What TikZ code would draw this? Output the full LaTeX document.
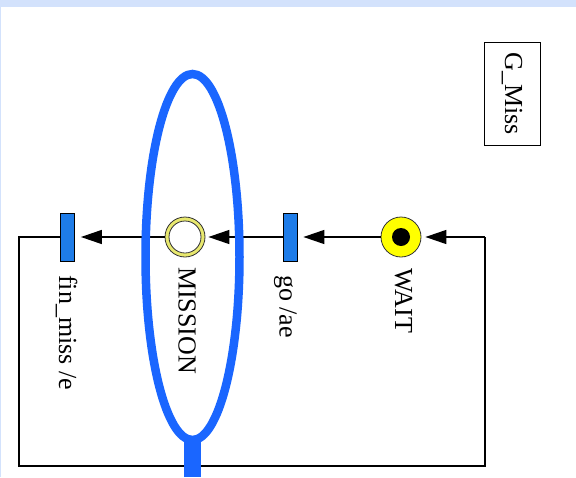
\documentclass[tikz,border=0pt]{standalone}
\usepackage{fontspec}
\setmainfont{Liberation Serif}
\usetikzlibrary{arrows.meta,shapes.geometric}
\definecolor{bandblue}{RGB}{211,226,252}
\definecolor{hlblue}{RGB}{26,102,255}
\definecolor{transblue}{RGB}{30,124,232}
\definecolor{ringyellow}{RGB}{232,232,110}
\definecolor{tokyellow}{RGB}{255,255,0}
\tikzset{
  arc/.style={line width=1.4pt, draw=black},
  arcarrow/.style={arc, -{Triangle[length=21pt,width=14pt]}},
  trans/.style={rectangle, draw=black, line width=0.8pt, fill=transblue, minimum width=14pt, minimum height=48pt, inner sep=0pt},
  place/.style={circle, draw=black!80, line width=0.8pt, minimum size=40pt, inner sep=0pt},
  lab/.style={rotate=-90, anchor=base west, inner sep=0pt, font=\fontsize{26}{30}\selectfont},
}
\begin{document}
\begin{tikzpicture}[x=1pt,y=-1pt]
\useasboundingbox (0,0) rectangle (576,477);
\fill[bandblue] (0,0) rectangle (576,477);
\fill[white] (1,7) rectangle (576,477);

% nodes
\node[place, fill=tokyellow] (wait) at (401,237) {};
\fill[black] (wait.center) circle (9);
\node[place, fill=ringyellow] (mission) at (185,237) {};
\filldraw[fill=white, draw=black!80, line width=0.8pt] (mission.center) circle (16);
\node[trans] (go) at (290,237) {};
\node[trans] (fin) at (67.5,237) {};

% loop coordinates
\coordinate (c1) at (19,237);
\coordinate (c2) at (19,466);
\coordinate (c3) at (485,466);
\coordinate (c4) at (485,237);

% connectors
\draw[arc] (fin.west) -- (c1) -- (c2) -- (c3) -- (c4);
\draw[arcarrow, shorten >=4pt] (c4) -- (wait.east);
\draw[arcarrow, shorten >=6pt] (wait.west) -- (go.east);
\draw[arcarrow, shorten >=3pt] (go.west) -- (mission.east);
\draw[arcarrow, shorten >=6pt] (mission.west) -- (fin.east);

% labels
\node[lab] (lmission) at (178.5,267) {MISSION};
\node[lab] (lwait) at (395,268) {WAIT};
\node[lab] (lgo) at (279.5,275) {go /ae};
\node[lab] (lfin) at (59,275) {fin\_miss /e};

% title box
\node[rotate=-90, draw=black, line width=1pt, minimum width=103pt, minimum height=56pt, inner sep=0pt, font=\fontsize{26}{30}\selectfont] (gmiss) at (512,93.5) {G\_Miss};

% highlight ellipse
\node[ellipse, draw=hlblue, line width=8.5pt, minimum width=94pt, minimum height=366pt, inner sep=0pt] (hl) at (192.5,257) {};
\fill[hlblue] (184,436) rectangle (201,477);
\end{tikzpicture}
\end{document}
